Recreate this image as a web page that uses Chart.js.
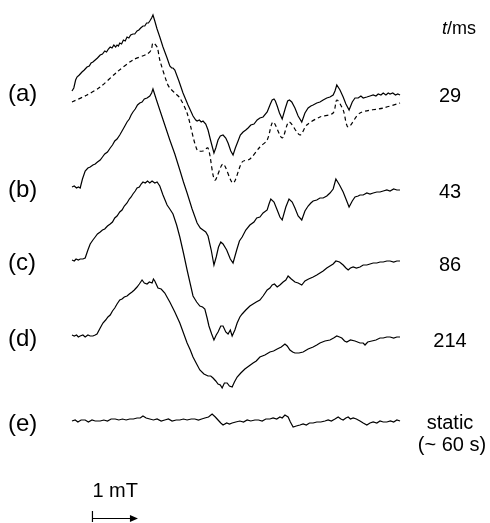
<!DOCTYPE html>
<html>
<head>
<meta charset="utf-8">
<script src="https://cdn.jsdelivr.net/npm/chart.js@4.4.0/dist/chart.umd.min.js"></script>
<style>
  html, body { margin: 0; padding: 0; background: #fff; }
  #wrap { width: 490px; height: 523px; }
</style>
</head>
<body>
<div id="wrap"><canvas id="epr" width="490" height="523"></canvas></div>
<script>
// field position in mT (0 = left end of the sweep), intensity in arbitrary units
var fieldA = [0, 0.04, 0.08, 0.11, 0.16, 0.22, 0.27, 0.33, 0.38, 0.42, 0.46, 0.51, 0.56, 0.62, 0.67, 0.72, 0.76, 0.80, 0.84, 0.88, 0.92, 0.96, 0.99, 1.02, 1.05, 1.09, 1.13, 1.17, 1.21, 1.25, 1.29, 1.34, 1.38, 1.43, 1.47, 1.51, 1.56, 1.60, 1.64, 1.68, 1.71, 1.75, 1.78, 1.82, 1.87, 1.93, 2.00, 2.09, 2.15, 2.19, 2.22, 2.26, 2.35, 2.44, 2.55, 2.66, 2.72, 2.75, 2.80, 2.84, 2.88, 2.94, 2.99, 3.05, 3.12, 3.16, 3.21, 3.26, 3.32, 3.38, 3.43, 3.49, 3.54, 3.59, 3.65, 3.70, 3.76, 3.82, 3.87, 3.93, 4.00, 4.07, 4.13, 4.20, 4.29, 4.36, 4.40, 4.44, 4.47, 4.51, 4.56, 4.62, 4.69, 4.74, 4.78, 4.83, 4.90, 4.97, 5.05, 5.12, 5.19, 5.25, 5.30, 5.38, 5.45, 5.52, 5.60, 5.67, 5.74, 5.78, 5.82, 5.89, 5.96, 6.02, 6.09, 6.16, 6.22, 6.29, 6.35, 6.40, 6.48, 6.55, 6.62, 6.68, 6.73, 6.79, 6.84, 6.90, 6.95, 6.99, 7.05, 7.11, 7.16, 7.21];
var signalA = [0, 3, 11, 14, 16, 19, 21, 24, 25, 28, 29, 31, 33, 36, 37, 40, 39, 42, 44, 43, 46, 44, 46, 45, 48, 47, 51, 50, 54, 53, 56, 57, 57, 60, 61, 63, 65, 65, 68, 68, 70, 73, 76, 70, 62, 54, 44, 33, 25, 23, 23, 21, 10, -2, -14, -25, -29, -30, -29, -31, -30, -33, -39, -50, -62, -57, -49, -45, -44, -47, -52, -60, -64, -57, -50, -44, -41, -39, -37, -34, -33, -29, -27, -26, -21, -13, -9, -8, -10, -15, -22, -28, -17, -10, -9, -11, -17, -25, -31, -22, -17, -15, -14, -12, -11, -9, -7, -6, -4, 0, 6, 1, -6, -13, -19, -11, -7, -7, -5, -7, -6, -5, -4, -5, -3, -4, -2, -4, -2, -3, -2, -4, -3, -4];

// dashed simulation drawn under trace (a)
var fieldSim = [0, 0.33, 0.62, 0.99, 1.34, 1.65, 1.74, 1.78, 1.87, 1.93, 2.09, 2.15, 2.26, 2.37, 2.53, 2.75, 2.88, 2.99, 3.14, 3.32, 3.54, 3.74, 3.91, 4.13, 4.29, 4.42, 4.62, 4.77, 5.01, 5.16, 5.45, 5.74, 5.82, 5.96, 6.07, 6.33, 6.84, 7.21];
var signalSim = [0, 7, 15, 30, 42, 48, 52, 59, 55, 42, 19, 14, 9, 4, -11, -48, -49, -46, -78, -62, -81, -60, -57, -45, -38, -20, -36, -20, -33, -23, -15, -11, 2, -8, -25, -11, -6, -1];

var fieldB = [0, 0.05, 0.10, 0.14, 0.18, 0.23, 0.29, 0.35, 0.40, 0.46, 0.51, 0.56, 0.62, 0.67, 0.72, 0.78, 0.84, 0.89, 0.94, 0.99, 1.05, 1.10, 1.15, 1.21, 1.26, 1.30, 1.34, 1.39, 1.44, 1.49, 1.54, 1.59, 1.65, 1.71, 1.75, 1.78, 1.85, 1.93, 2.04, 2.15, 2.26, 2.37, 2.45, 2.53, 2.64, 2.75, 2.82, 2.88, 2.94, 2.99, 3.06, 3.12, 3.17, 3.22, 3.27, 3.32, 3.40, 3.48, 3.54, 3.62, 3.68, 3.74, 3.82, 3.91, 4.00, 4.06, 4.13, 4.20, 4.29, 4.33, 4.37, 4.44, 4.51, 4.57, 4.62, 4.70, 4.77, 4.84, 4.90, 4.97, 5.05, 5.12, 5.19, 5.25, 5.30, 5.38, 5.45, 5.52, 5.60, 5.67, 5.74, 5.80, 5.88, 5.96, 6.03, 6.09, 6.16, 6.22, 6.29, 6.33, 6.40, 6.48, 6.55, 6.62, 6.70, 6.77, 6.84, 6.92, 6.99, 7.07, 7.14, 7.21];
var signalB = [0, 1, -1, 0, -1, 8, 16, 19, 20, 22, 23, 25, 27, 30, 33, 35, 39, 42, 46, 48, 52, 56, 60, 65, 68, 72, 75, 78, 82, 84, 85, 88, 89, 91, 94, 98, 88, 77, 62, 47, 33, 17, 5, -6, -22, -36, -41, -43, -45, -49, -63, -78, -70, -60, -55, -57, -63, -72, -76, -63, -54, -50, -43, -38, -35, -31, -30, -26, -23, -17, -12, -15, -23, -30, -33, -20, -12, -15, -21, -29, -33, -24, -19, -16, -14, -13, -11, -11, -9, -6, -2, 8, 2, -5, -13, -20, -14, -10, -9, -8, -8, -6, -7, -6, -5, -5, -4, -3, -4, -2, -3, -3];

var fieldC = [0, 0.05, 0.09, 0.14, 0.18, 0.24, 0.29, 0.35, 0.40, 0.46, 0.51, 0.56, 0.62, 0.67, 0.72, 0.78, 0.84, 0.89, 0.94, 0.99, 1.05, 1.10, 1.15, 1.21, 1.26, 1.30, 1.34, 1.39, 1.43, 1.48, 1.52, 1.56, 1.61, 1.66, 1.71, 1.76, 1.82, 1.87, 1.93, 2.00, 2.09, 2.15, 2.22, 2.30, 2.37, 2.45, 2.53, 2.60, 2.66, 2.74, 2.81, 2.87, 2.92, 2.97, 3.01, 3.07, 3.12, 3.17, 3.21, 3.27, 3.32, 3.38, 3.43, 3.48, 3.52, 3.58, 3.63, 3.69, 3.74, 3.82, 3.91, 3.98, 4.05, 4.13, 4.20, 4.29, 4.35, 4.40, 4.45, 4.51, 4.57, 4.64, 4.70, 4.75, 4.82, 4.90, 4.97, 5.05, 5.12, 5.20, 5.30, 5.38, 5.45, 5.52, 5.60, 5.67, 5.74, 5.80, 5.88, 5.96, 6.02, 6.07, 6.12, 6.18, 6.25, 6.33, 6.40, 6.48, 6.55, 6.62, 6.70, 6.77, 6.84, 6.92, 6.99, 7.07, 7.14, 7.21];
var signalC = [0, -1, 1, 0, 1, 1, 2, 10, 16, 20, 23, 26, 28, 30, 31, 34, 36, 38, 42, 44, 48, 50, 54, 57, 61, 63, 66, 69, 72, 73, 76, 78, 77, 79, 77, 79, 77, 78, 74, 65, 55, 51, 46, 35, 23, 7, -10, -24, -36, -42, -46, -47, -49, -58, -66, -74, -80, -75, -72, -66, -66, -72, -74, -70, -76, -70, -63, -57, -54, -50, -46, -44, -42, -40, -36, -30, -28, -25, -24, -27, -25, -22, -20, -16, -19, -22, -23, -25, -21, -19, -17, -15, -13, -11, -8, -6, -4, -1, -2, -5, -8, -10, -8, -7, -8, -7, -5, -5, -4, -3, -3, -2, -2, -1, -1, -2, -1, -1];

var fieldD = [0, 0.05, 0.10, 0.14, 0.18, 0.24, 0.29, 0.35, 0.40, 0.46, 0.51, 0.55, 0.62, 0.68, 0.74, 0.79, 0.84, 0.89, 0.94, 0.99, 1.05, 1.10, 1.15, 1.21, 1.26, 1.32, 1.37, 1.43, 1.48, 1.54, 1.59, 1.65, 1.70, 1.76, 1.79, 1.82, 1.86, 1.89, 1.96, 2.04, 2.10, 2.15, 2.26, 2.37, 2.45, 2.53, 2.60, 2.66, 2.74, 2.81, 2.90, 2.99, 3.05, 3.10, 3.16, 3.21, 3.26, 3.30, 3.35, 3.41, 3.46, 3.52, 3.57, 3.63, 3.71, 3.80, 3.89, 3.98, 4.05, 4.13, 4.24, 4.35, 4.43, 4.51, 4.60, 4.68, 4.73, 4.79, 4.85, 4.90, 4.99, 5.08, 5.19, 5.30, 5.38, 5.45, 5.56, 5.67, 5.75, 5.82, 5.88, 5.93, 5.99, 6.04, 6.12, 6.22, 6.33, 6.40, 6.44, 6.50, 6.59, 6.68, 6.77, 6.84, 6.92, 6.99, 7.07, 7.14, 7.21];
var signalD = [1, 0, 1, -1, 0, 1, -1, 1, 0, 0, 1, 2, 8, 13, 16, 19, 21, 25, 28, 32, 36, 37, 39, 40, 42, 44, 46, 49, 52, 56, 53, 52, 54, 53, 57, 55, 51, 48, 47, 43, 38, 34, 24, 13, 3, -7, -14, -21, -28, -34, -38, -40, -40, -42, -45, -48, -49, -52, -47, -47, -50, -51, -46, -41, -37, -33, -30, -27, -25, -21, -19, -16, -15, -13, -11, -8, -10, -14, -16, -17, -17, -16, -13, -11, -9, -7, -5, -4, -2, 0, -1, -2, -5, -6, -4, -5, -7, -7, -9, -6, -5, -4, -2, -2, -1, -1, -2, -1, -1];

var fieldE = [0, 0.07, 0.13, 0.20, 0.29, 0.36, 0.44, 0.51, 0.62, 0.70, 0.78, 0.86, 0.95, 1.03, 1.11, 1.19, 1.27, 1.35, 1.43, 1.50, 1.56, 1.63, 1.71, 1.79, 1.87, 1.96, 2.04, 2.12, 2.20, 2.29, 2.37, 2.45, 2.53, 2.62, 2.70, 2.78, 2.85, 2.92, 3.00, 3.08, 3.15, 3.21, 3.27, 3.32, 3.40, 3.46, 3.52, 3.60, 3.69, 3.77, 3.85, 3.93, 4.02, 4.10, 4.18, 4.26, 4.35, 4.42, 4.50, 4.57, 4.62, 4.68, 4.75, 4.80, 4.86, 4.93, 5.01, 5.08, 5.15, 5.22, 5.30, 5.38, 5.47, 5.56, 5.63, 5.70, 5.78, 5.85, 5.91, 5.96, 6.02, 6.07, 6.12, 6.18, 6.25, 6.33, 6.40, 6.48, 6.55, 6.62, 6.70, 6.77, 6.84, 6.92, 7.00, 7.07, 7.14, 7.21];
var signalE = [0, 1, -1, 1, 1, -1, 1, 0, 0, 1, 0, 2, 2, 1, 2, 1, 2, 2, 3, 3, 5, 3, 2, 1, 2, 0, 1, 2, 0, 1, 1, 2, 1, 2, 2, 1, 2, 3, 4, 7, 4, 1, -2, -4, -2, -3, -2, -1, 0, -1, 1, 0, 1, 1, 0, 2, 2, 3, 2, 4, 3, 6, 4, -1, -6, -5, -4, -3, -4, -2, -2, -1, -1, 0, 1, 0, 2, 4, 2, 1, 3, 4, 2, 3, 2, 0, -2, -4, -2, -1, -2, 0, -1, -1, 0, -1, 1, 0];

var traceNames = ['(a)', '(b)', '(c)', '(d)', '(e)'];
var delayLabels = ['29', '43', '86', '214', 'static'];
var traceOffsets = [432, 336, 263, 187, 102];
var simOffset = 421;

function pts(xs, ys, off) {
  return xs.map(function (x, i) { return { x: x, y: ys[i] + off }; });
}

var lineStyle = { borderColor: '#000', borderWidth: 1.2, pointRadius: 0, fill: false, tension: 0 };

var datasets = [
  Object.assign({}, lineStyle, { label: 'a', data: pts(fieldA, signalA, traceOffsets[0]) }),
  Object.assign({}, lineStyle, { label: 'a sim', data: pts(fieldSim, signalSim, simOffset), borderDash: [4, 3], tension: 0.3 }),
  Object.assign({}, lineStyle, { label: 'b', data: pts(fieldB, signalB, traceOffsets[1]) }),
  Object.assign({}, lineStyle, { label: 'c', data: pts(fieldC, signalC, traceOffsets[2]) }),
  Object.assign({}, lineStyle, { label: 'd', data: pts(fieldD, signalD, traceOffsets[3]) }),
  Object.assign({}, lineStyle, { label: 'e', data: pts(fieldE, signalE, traceOffsets[4]) })
];

// labels, t/ms heading and the 1 mT scale bar
var annotations = {
  id: 'annotations',
  afterDraw: function (chart) {
    var ctx = chart.ctx;
    var ys = chart.scales.y;
    var xs = chart.scales.x;
    ctx.save();
    ctx.fillStyle = '#000';
    ctx.strokeStyle = '#000';
    ctx.textBaseline = 'middle';

    ctx.font = '24px "Liberation Sans", Arial, sans-serif';
    ctx.textAlign = 'left';
    traceNames.forEach(function (t, i) {
      ctx.fillText(t, 8, ys.getPixelForValue(traceOffsets[i]) + 3);
    });

    ctx.font = '20px "Liberation Sans", Arial, sans-serif';
    ctx.textAlign = 'center';
    delayLabels.forEach(function (t, i) {
      var y = ys.getPixelForValue(traceOffsets[i]) + 5;
      if (t === 'static') y -= 3;
      ctx.fillText(t, 450, y);
    });
    ctx.fillText('(~ 60 s)', 452, ys.getPixelForValue(traceOffsets[4]) + 24);

    // t/ms
    ctx.textAlign = 'left';
    ctx.textBaseline = 'alphabetic';
    ctx.font = 'italic 18px "Liberation Sans", Arial, sans-serif';
    ctx.fillText('t', 442, 34);
    var tw = ctx.measureText('t').width;
    ctx.font = '18px "Liberation Sans", Arial, sans-serif';
    ctx.fillText('/ms', 442 + tw, 34);

    // scale bar
    ctx.font = '20px "Liberation Sans", Arial, sans-serif';
    var x0 = xs.getPixelForValue(0.45);
    var x1 = xs.getPixelForValue(1.45);
    ctx.textAlign = 'center';
    ctx.fillText('1 mT', (x0 + x1) / 2, 497);
    ctx.lineWidth = 1.2;
    ctx.beginPath();
    ctx.moveTo(x0, 511); ctx.lineTo(x0, 522);
    ctx.moveTo(x0, 518.5); ctx.lineTo(x1 - 4, 518.5);
    ctx.stroke();
    ctx.beginPath();
    ctx.moveTo(x1, 518.5); ctx.lineTo(x1 - 8, 515); ctx.lineTo(x1 - 8, 522); ctx.closePath();
    ctx.fill();
    ctx.restore();
  }
};

new Chart(document.getElementById('epr'), {
  type: 'line',
  data: { datasets: datasets },
  options: {
    responsive: false,
    animation: false,
    layout: { padding: 0 },
    scales: {
      x: { type: 'linear', min: -1.582, max: 9.187, display: false },
      y: { min: 0, max: 523, display: false }
    },
    plugins: {
      legend: { display: false },
      tooltip: { enabled: false }
    }
  },
  plugins: [annotations]
});
</script>
</body>
</html>
